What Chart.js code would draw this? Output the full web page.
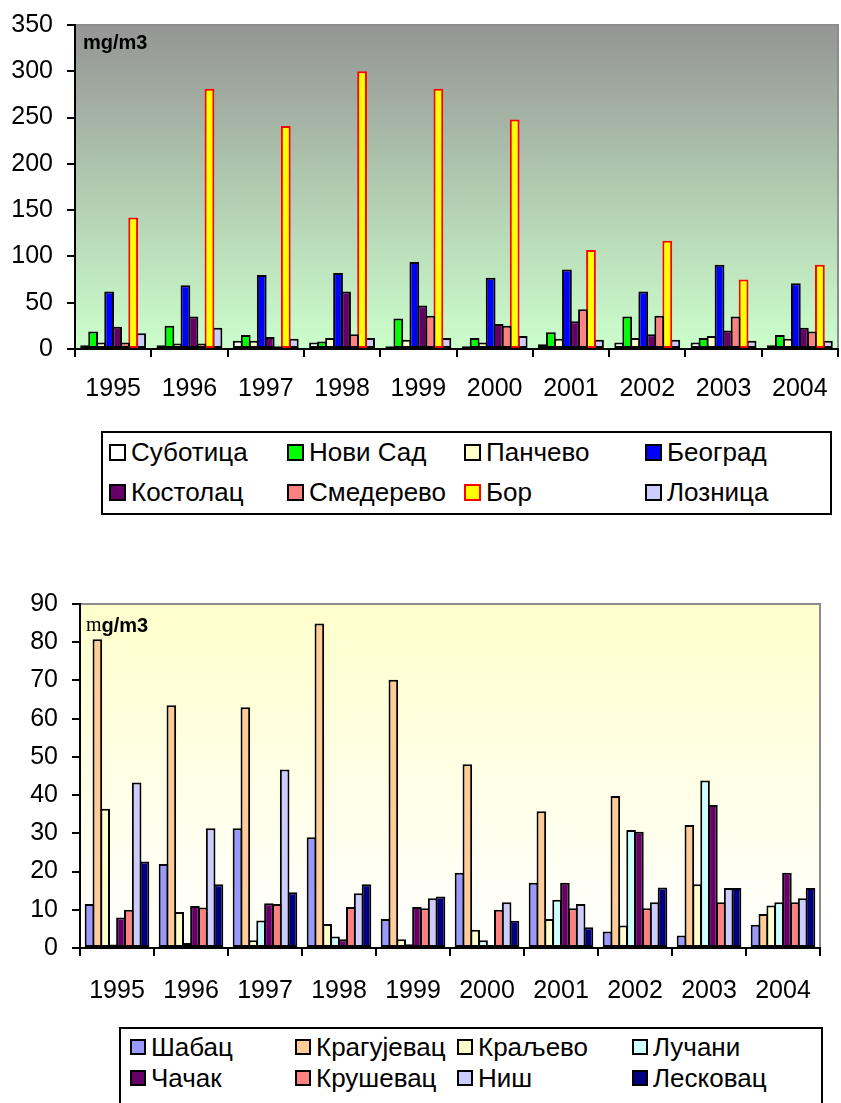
<!DOCTYPE html>
<html>
<head>
<meta charset="utf-8">
<script src="https://cdn.jsdelivr.net/npm/chart.js@4"></script>
<style>
  html, body { margin: 0; padding: 0; background: #fff; }
  body { width: 841px; height: 1103px; position: relative; overflow: hidden;
         font-family: "Liberation Sans", Arial, sans-serif; }
  .chart-box { position: absolute; left: 0; width: 841px; height: 420px; }
  .legend { position: absolute; border: 2px solid #000; box-sizing: border-box; background: #fff; }
  .legend-item { position: absolute; height: 30px; display: flex; align-items: center;
                 font-size: 26px; color: #000; white-space: nowrap; line-height: 1; }
  .legend-swatch { box-sizing: border-box; border: 2px solid #000; margin-right: 5px; }
</style>
</head>
<body>
<div class="chart-box" style="top:0"><canvas id="topChart" width="841" height="420"></canvas></div>
<div class="legend" id="topLegend" style="left:101px;top:431px;width:731px;height:84px"></div>
<div class="chart-box" style="top:580px"><canvas id="bottomChart" width="841" height="420"></canvas></div>
<div class="legend" id="bottomLegend" style="left:119px;top:1027px;width:704px;height:90px"></div>
<script>
// --- data ---
const years = ['1995', '1996', '1997', '1998', '1999', '2000', '2001', '2002', '2003', '2004'];

// top panel (mg/m3)
const topCities = ['Суботица', 'Нови Сад', 'Панчево', 'Београд', 'Костолац', 'Смедерево', 'Бор', 'Лозница'];
const subotica  = [4, 4, 9, 7, 3, 3, 5, 7, 7, 4];
const noviSad   = [19, 25, 15, 8, 33, 12, 18, 35, 12, 15];
const pancevo   = [7, 6, 9, 12, 10, 7, 11, 12, 14, 11];
const beograd   = [62, 69, 80, 82, 94, 77, 86, 62, 91, 71];
const kostolac  = [24, 35, 13, 62, 47, 27, 30, 16, 20, 23];
const smederevo = [7, 6, 3, 16, 36, 25, 43, 36, 35, 19];
const bor       = [142, 281, 241, 300, 281, 248, 107, 117, 75, 91];
const loznica   = [17, 23, 11, 12, 12, 14, 10, 10, 9, 9];
const topTicks  = [0, 50, 100, 150, 200, 250, 300, 350];

// bottom panel (µg/m3)
const bottomCities = ['Шабац', 'Крагујевац', 'Краљево', 'Лучани', 'Чачак', 'Крушевац', 'Ниш', 'Лесковац'];
const sabac      = [11.5, 22, 31.3, 29, 7.6, 19.7, 17.1, 4.3, 3.3, 6.1];
const kragujevac = [80.8, 63.5, 63, 84.9, 70.2, 48.1, 35.8, 39.8, 32.2, 8.9];
const kraljevo   = [36.4, 9.4, 2, 6.3, 2.3, 4.8, 7.6, 5.9, 16.7, 11.1];
const lucani     = [0.9, 1.3, 7.2, 3, 1, 2, 12.6, 30.9, 43.8, 12];
const cacak      = [8, 11, 11.7, 2.3, 10.7, 0.8, 17.1, 30.4, 37.4, 19.7];
const krusevac   = [10, 10.6, 11.5, 10.7, 10.4, 10, 10.4, 10.4, 12, 12];
const nis        = [43.3, 31.3, 46.7, 14.3, 13, 12, 11.5, 12, 15.7, 13];
const leskovac   = [22.6, 16.7, 14.6, 16.7, 13.5, 7.1, 5.4, 15.8, 15.7, 15.7];
const bottomTicks = [0, 10, 20, 30, 40, 50, 60, 70, 80, 90];

const FONT = '"Liberation Sans", Arial, sans-serif';

// Fills the plot area with a vertical gradient, draws the grey top/right frame and the
// unit caption in the top-left corner (the bottom panel's µ comes out as a serif 'm').
const plotDecor = {
    id: 'plotDecor',
    beforeDraw(chart, args, opts) {
        const { ctx, chartArea: a } = chart;
        const g = ctx.createLinearGradient(0, a.top, 0, a.bottom);
        g.addColorStop(0, opts.topColor);
        g.addColorStop(1, opts.bottomColor);
        ctx.save();
        ctx.fillStyle = g;
        ctx.fillRect(a.left, a.top, a.right - a.left, a.bottom - a.top);
        ctx.strokeStyle = '#8c8c8c';
        ctx.lineWidth = 2;
        ctx.beginPath();
        ctx.moveTo(a.left, a.top);
        ctx.lineTo(a.right, a.top);
        ctx.lineTo(a.right, a.bottom);
        ctx.stroke();
        ctx.restore();
    },
    afterDraw(chart, args, opts) {
        const { ctx, chartArea: a } = chart;
        ctx.save();
        ctx.fillStyle = '#000';
        ctx.textBaseline = 'middle';
        let x = a.left + opts.unitDx;
        const y = a.top + opts.unitDy;
        if (opts.serifM) {
            ctx.font = '20px "Liberation Serif", "Times New Roman", serif';
            ctx.fillText('m', x, y);
            x += ctx.measureText('m').width;
            ctx.font = 'bold 20px ' + FONT;
            ctx.fillText('g/m3', x, y);
        } else {
            ctx.font = 'bold 20px ' + FONT;
            ctx.fillText('mg/m3', x, y);
        }
        ctx.restore();
    }
};

function makeDatasets(names, series, fills, borders) {
    return names.map((name, i) => ({
        label: name,
        data: series[i],
        backgroundColor: fills[i],
        borderColor: borders[i],
        borderWidth: 2,
        borderSkipped: false
    }));
}

// barPercentage > 1 lets neighbouring bars share their outlines, like the original.
// The afterFit hooks pin the axis boxes (and drop Chart.js' label overhang padding) so
// the plot area lands exactly where the original's does.
function makeOptions(cfg) {
    const tickFont = { family: FONT, size: 25 };
    return {
        responsive: false,
        animation: false,
        events: [],
        layout: { padding: { top: cfg.padTop, right: cfg.padRight, left: 0, bottom: 0 } },
        datasets: { bar: { categoryPercentage: cfg.catPct, barPercentage: 1.22 } },
        plugins: {
            legend: { display: false },
            tooltip: { enabled: false },
            plotDecor: cfg.decor
        },
        scales: {
            x: {
                grid: { offset: true, drawOnChartArea: false, drawTicks: true, tickLength: 8,
                        color: '#000', lineWidth: 2 },
                border: { display: true, color: '#000', width: 2 },
                ticks: { color: '#000', font: tickFont, padding: cfg.xPad, maxRotation: 0, autoSkip: false },
                afterFit: s => { s.height = cfg.xHeight; s.paddingLeft = 0; s.paddingRight = 0; }
            },
            y: {
                min: cfg.ticks[0],
                max: cfg.ticks[cfg.ticks.length - 1],
                afterBuildTicks: s => { s.ticks = cfg.ticks.map(v => ({ value: v })); },
                grid: { drawOnChartArea: false, drawTicks: true, tickLength: 8,
                        color: '#000', lineWidth: 2 },
                border: { display: true, color: '#000', width: 2 },
                ticks: { color: '#000', font: tickFont, padding: 14 },
                afterFit: s => { s.width = cfg.yWidth; s.paddingTop = 0; s.paddingBottom = 0; }
            }
        }
    };
}

function buildLegend(el, names, fills, borders, cols, rows, swatch) {
    const left = parseFloat(el.style.left) + 2;
    const top = parseFloat(el.style.top) + 2;
    names.forEach((name, i) => {
        const item = document.createElement('div');
        item.className = 'legend-item';
        item.style.left = (cols[i % 4] - left) + 'px';
        item.style.top = (rows[Math.floor(i / 4)] - 15 - top) + 'px';
        const sw = document.createElement('span');
        sw.className = 'legend-swatch';
        sw.style.width = swatch + 'px';
        sw.style.height = swatch + 'px';
        sw.style.background = fills[i];
        sw.style.borderColor = borders[i];
        item.appendChild(sw);
        const label = document.createElement('span');
        label.textContent = name;
        item.appendChild(label);
        el.appendChild(item);
    });
}

// --- top panel ---
const topFills = ['#ffffff', '#00ff00', '#ffffcc', '#0000ff', '#660066', '#ff8080', '#ffff00', '#ccccff'];
const topBorders = ['#000', '#000', '#000', '#000', '#000', '#000', '#ff0000', '#000'];
new Chart(document.getElementById('topChart'), {
    type: 'bar',
    data: {
        labels: years,
        datasets: makeDatasets(topCities,
            [subotica, noviSad, pancevo, beograd, kostolac, smederevo, bor, loznica],
            topFills, topBorders)
    },
    options: makeOptions({
        padTop: 25, padRight: 3, xHeight: 71, xPad: 17, yWidth: 75, catPct: 0.84, ticks: topTicks,
        decor: { topColor: '#959595', bottomColor: '#ccffcc', unitDx: 8, unitDy: 18, serifM: false }
    }),
    plugins: [plotDecor]
});
buildLegend(document.getElementById('topLegend'), topCities, topFills, topBorders,
    [109, 287, 464, 645], [452, 492], 17);

// --- bottom panel ---
const bottomFills = ['#9999ff', '#ffcc99', '#ffffcc', '#ccffff', '#660066', '#ff8080', '#ccccff', '#000080'];
const bottomBorders = bottomFills.map(() => '#000');
new Chart(document.getElementById('bottomChart'), {
    type: 'bar',
    data: {
        labels: years,
        datasets: makeDatasets(bottomCities,
            [sabac, kragujevac, kraljevo, lucani, cacak, krusevac, nis, leskovac],
            bottomFills, bottomBorders)
    },
    options: makeOptions({
        padTop: 24, padRight: 21, xHeight: 52, xPad: 20, yWidth: 80, catPct: 0.85, ticks: bottomTicks,
        decor: { topColor: '#ffffcc', bottomColor: '#ffffff', unitDx: 6, unitDy: 22, serifM: true }
    }),
    plugins: [plotDecor]
});
buildLegend(document.getElementById('bottomLegend'), bottomCities, bottomFills, bottomBorders,
    [130, 295, 457, 632], [1047, 1078], 16);
</script>
</body>
</html>
